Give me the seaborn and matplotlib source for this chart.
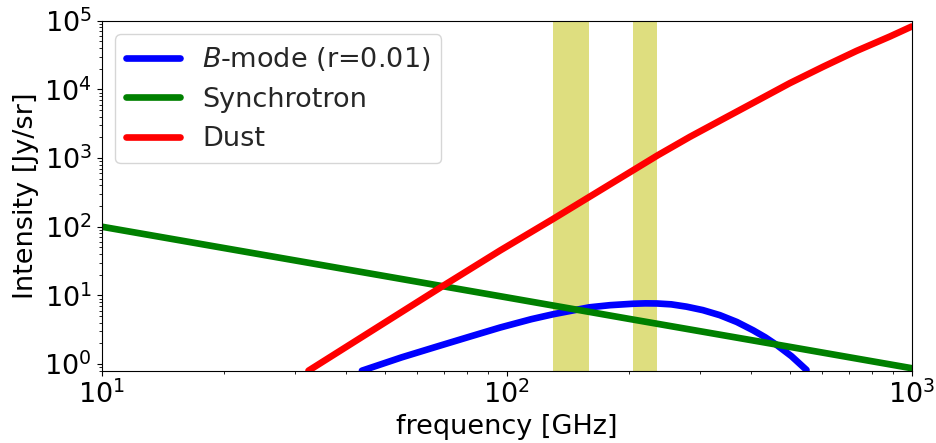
import matplotlib
matplotlib.use("Agg")
import matplotlib.pyplot as plt
import seaborn as sns
import pandas as pd
from matplotlib.ticker import LogLocator, NullFormatter

# Frequencies (GHz) and intensities (Jy/sr) for each component
bmode_freq = [43.9, 55.0, 67.1, 80.0, 96.3, 115.0, 130.0, 145.0, 160.0, 180.0, 205.0,
              220.0, 235.0, 255.0, 278.0, 305.0, 336.0, 370.0, 406.0, 435.0, 464.0,
              505.0, 550.0]
bmode_int = [0.80, 1.25, 1.79, 2.45, 3.40, 4.50, 5.30, 6.00, 6.70, 7.20, 7.55,
             7.65, 7.62, 7.40, 6.85, 6.10, 5.15, 4.10, 3.10, 2.45, 1.90,
             1.30, 0.82]

sync_freq = [10.0, 20.0, 50.0, 100.0, 200.0, 500.0, 1000.0]
sync_int = [100.0, 49.0, 19.1, 9.35, 4.56, 1.78, 0.87]

dust_freq = [32.4, 69.0, 96.3, 130.0, 236.0, 283.6, 342.6, 414.0, 500.0,
             605.0, 731.0, 884.0, 1000.0]
dust_int = [0.80, 13.3, 45.0, 129.0, 1096.0, 2040.0, 3715.0, 6760.0, 12300.0,
            21400.0, 36300.0, 58900.0, 82200.0]

# Observing bands (GHz)
band_edges = [(130.0, 160.0), (205.0, 235.0)]

labels = [r"$B$-mode (r=0.01)", "Synchrotron", "Dust"]
colors = ["#0000ff", "#008000", "#ff0000"]

frames = []
for name, f, v in zip(labels, [bmode_freq, sync_freq, dust_freq],
                      [bmode_int, sync_int, dust_int]):
    frames.append(pd.DataFrame({"frequency": f, "intensity": v, "component": name}))
df = pd.concat(frames, ignore_index=True)

sns.set_theme(style="ticks")
plt.rcParams["font.family"] = ["DejaVu Sans"]
plt.rcParams["mathtext.fontset"] = "dejavusans"
plt.rcParams["axes.edgecolor"] = "black"
plt.rcParams["xtick.color"] = "black"
plt.rcParams["ytick.color"] = "black"
plt.rcParams["axes.labelcolor"] = "black"
plt.rcParams["axes.linewidth"] = 0.8

FS = 19.5

fig = plt.figure(figsize=(9.36, 4.43), dpi=100)
ax = fig.add_axes([0.1087, 0.1632, 0.974 - 0.1087, 0.9533 - 0.1632])

for lo, hi in band_edges:
    ax.axvspan(lo, hi, color=(0.75, 0.75, 0.0), alpha=0.5, lw=0, zorder=0)

sns.lineplot(data=df, x="frequency", y="intensity", hue="component",
             palette=dict(zip(labels, colors)), hue_order=labels,
             linewidth=4.8, ax=ax, sort=False, estimator=None)

ax.set_xscale("log")
ax.set_yscale("log")
ax.set_xlim(10, 1000)
ax.set_ylim(0.8, 1e5)

ax.yaxis.set_major_locator(LogLocator(base=10, numticks=10))
ax.yaxis.set_minor_locator(LogLocator(base=10, subs=range(2, 10), numticks=20))
ax.yaxis.set_minor_formatter(NullFormatter())
ax.xaxis.set_minor_formatter(NullFormatter())

ax.tick_params(axis="both", which="major", labelsize=FS, length=3.5, width=0.8,
               direction="out", colors="black")
ax.tick_params(axis="both", which="minor", length=2, width=0.6, direction="out")

ax.set_xlabel("frequency [GHz]", fontsize=FS)
ax.set_ylabel("Intensity [Jy/sr]", fontsize=FS)

for s in ax.spines.values():
    s.set_visible(True)
    s.set_color("black")
    s.set_linewidth(0.8)

leg = ax.legend(loc="upper left", fontsize=FS, handlelength=2.0, frameon=True,
                fancybox=True, framealpha=0.8, edgecolor="0.8")
leg.get_frame().set_linewidth(1.0)
for line in leg.get_lines():
    line.set_linewidth(4.8)

fig.savefig("out.png", dpi=100)
